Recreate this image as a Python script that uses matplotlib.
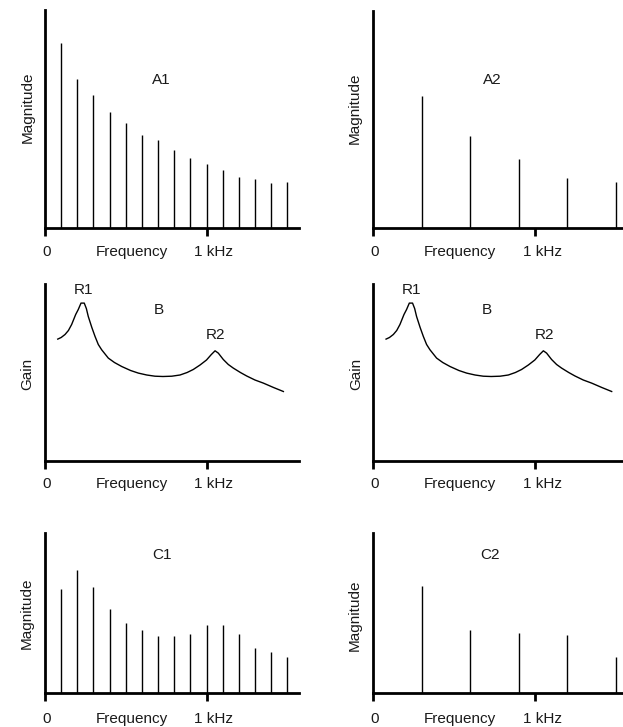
import numpy as np
import matplotlib
matplotlib.use('Agg')
import matplotlib.pyplot as plt

plt.rcParams['font.family'] = ['Liberation Sans', 'DejaVu Sans']

# harmonic spectra (frequencies in Hz, magnitudes in arbitrary units)
a1_freq = [100, 200, 300, 400, 500, 600, 700, 800, 900, 1000, 1100, 1200, 1300, 1400, 1500]
a1_mag = [185, 149, 133, 116, 105, 93, 88, 78, 70, 64, 58, 51, 49, 45, 46]
a2_freq = [300, 600, 900, 1200, 1500]
a2_mag = [132, 92, 69, 50, 46]

# filter response B (gain curve)
b_freq = [79, 100, 124, 145, 165, 190, 206, 223, 243, 256, 268, 290, 310, 330, 351, 392,
          430, 475, 530, 578, 630, 681, 730, 785, 836, 880, 918, 960, 1000, 1030, 1053,
          1073, 1104, 1135, 1166, 1210, 1249, 1300, 1352, 1415, 1476]
b_gain = [121.4, 123, 126, 130, 136, 146, 151, 157.4, 157.4, 152, 144, 133, 124, 116, 110.7, 102.4,
          98, 94, 90, 87.4, 85.5, 84.3, 84, 84.3, 85.5, 88, 91, 95.5, 100.5, 106, 109.7,
          107.4, 101, 96, 92.4, 88, 84.5, 80.5, 77.4, 73, 69]

c1_freq = a1_freq
c1_mag = [104, 123, 106, 84, 70, 63, 57, 57, 59, 68, 68, 59, 45, 41, 36]
c2_freq = a2_freq
c2_mag = [107, 63, 60, 58, 36]

W, H = 623, 727
px_per_khz = 161.5
xmax = 254 / px_per_khz * 1000

fig = plt.figure(figsize=(W / 100, H / 100), dpi=100)
fs = 11
tc = '#1a1a1a'


def panel(x0, base, top, ylabel, ylab_x, ylab_y, txt_off=-23.5):
    ax = fig.add_axes([x0 / W, 1 - base / H, 254 / W, (base - top) / H])
    ax.set_xlim(0, xmax)
    ax.set_ylim(0, base - top)
    for s in ['top', 'right']:
        ax.spines[s].set_visible(False)
    ax.spines['left'].set_linewidth(2)
    ax.spines['bottom'].set_linewidth(2)
    ax.set_xticks([0, 1000])
    ax.set_yticks([])
    ax.tick_params(axis='x', length=6, width=2, direction='out', labelbottom=False)
    ax.text(10, txt_off, '0', ha='center', va='center', fontsize=fs, color=tc, clip_on=False)
    ax.text(535, txt_off, 'Frequency', ha='center', va='center', fontsize=fs, color=tc, clip_on=False)
    ax.text(1045, txt_off, '1 kHz', ha='center', va='center', fontsize=fs, color=tc, clip_on=False)
    ax.text(-ylab_x, ylab_y, ylabel, rotation=90, ha='center', va='center',
            fontsize=fs, color=tc, clip_on=False)
    ax.patch.set_visible(False)
    return ax


def stems(ax, f, m):
    ax.vlines(f, 0, m, color='black', lw=1.0)


def label(ax, x, y, s):
    ax.text(x, y, s, ha='center', va='center', fontsize=fs, color=tc)


ax = panel(45, 228.3, 10, 'Magnitude', 105, 121)
stems(ax, a1_freq, a1_mag)
label(ax, 723, 148, 'A1')

ax = panel(373.3, 228.3, 11, 'Magnitude', 113, 120)
stems(ax, a2_freq, a2_mag)
label(ax, 734, 148, 'A2')

for x0, lx in [(45, 113), (373.3, 105)]:
    ax = panel(x0, 460.5, 284, 'Gain', lx, 87)
    ax.plot(b_freq, b_gain, color='black', lw=1.0)
    label(ax, 237, 171, 'R1')
    label(ax, 1058, 125.5, 'R2')
    label(ax, 705, 150.5, 'B')

ax = panel(45, 692.8, 532.5, 'Magnitude', 113, 80, txt_off=-26)
stems(ax, c1_freq, c1_mag)
label(ax, 723, 138, 'C1')

ax = panel(373.3, 693.3, 533.3, 'Magnitude', 113, 78, txt_off=-26)
stems(ax, c2_freq, c2_mag)
label(ax, 723, 138, 'C2')

fig.savefig('out.png', dpi=100)
